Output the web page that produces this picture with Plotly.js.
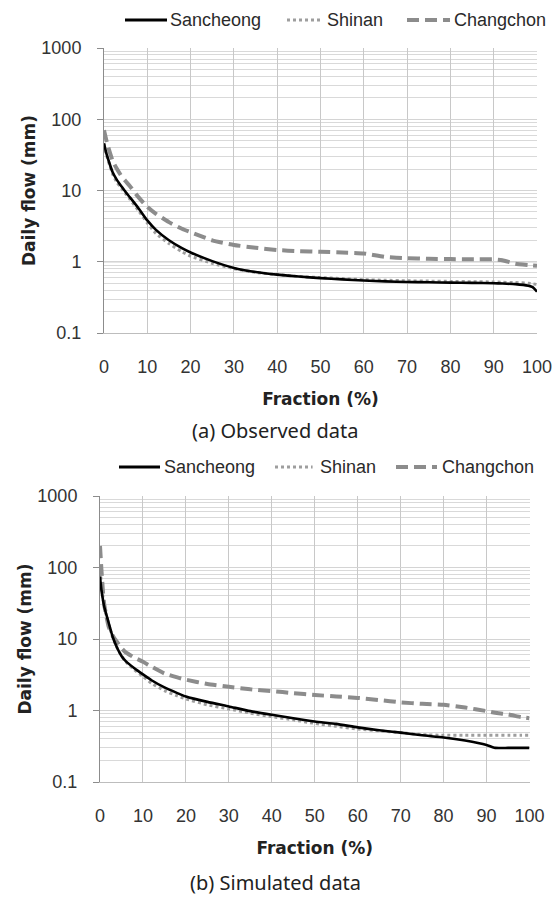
<!DOCTYPE html>
<html><head><meta charset="utf-8">
<script src="https://cdn.plot.ly/plotly-3.0.1.min.js"></script>
<style>html,body{margin:0;padding:0;background:#fff;}#chart{width:557px;height:899px;}</style>
</head><body><div id="chart"></div>
<script>
// ---- data ----
const seriesNames = ["Sancheong", "Shinan", "Changchon"];
const xTickVals = [0,10,20,30,40,50,60,70,80,90,100];
const yTickVals = [0.1, 1, 10, 100, 1000];
const yTickText = ["0.1", "1", "10", "100", "1000"];

const obsFrac = [0,0.5,1,2,3,4,5,6,8,10,12,15,18,20,25,30,35,40,45,50,55,60,65,70,75,80,85,90,92,95,98,99,100];
const obsSancheong = [46,34,27,18,14,11.5,9.5,8,5.6,3.8,2.8,2.0,1.55,1.35,1.02,0.82,0.72,0.66,0.62,0.59,0.565,0.545,0.53,0.52,0.515,0.51,0.505,0.5,0.495,0.485,0.46,0.44,0.38];
const obsShinan = [45,33,26,17,13,10.8,9,7.5,5.2,3.5,2.5,1.8,1.38,1.2,0.95,0.8,0.71,0.66,0.62,0.6,0.58,0.56,0.55,0.54,0.535,0.53,0.525,0.52,0.515,0.51,0.5,0.49,0.48];
const obsChangchon = [70,52,40,26,20,16,13.5,11.5,8,5.9,4.7,3.6,2.9,2.6,2.0,1.72,1.57,1.46,1.41,1.38,1.35,1.31,1.17,1.12,1.1,1.09,1.08,1.08,1.05,0.94,0.9,0.89,0.88];

const simFrac = [0,0.3,0.7,1,2,3,4,5,6,8,10,12,15,18,20,25,30,35,40,45,50,55,60,65,70,75,80,85,90,92,95,98,100];
const simSancheong = [75,50,35,28,17,10.5,7.5,5.8,4.9,3.9,3.2,2.65,2.1,1.75,1.57,1.32,1.14,0.98,0.87,0.78,0.7,0.65,0.58,0.53,0.49,0.45,0.42,0.38,0.33,0.3,0.3,0.3,0.3];
const simShinan = [110,60,38,28,16,10.5,7.5,5.8,4.8,3.7,3.0,2.4,1.9,1.6,1.45,1.2,1.05,0.92,0.82,0.74,0.66,0.6,0.55,0.52,0.49,0.46,0.45,0.45,0.45,0.45,0.45,0.45,0.45];
const simChangchon = [200,100,45,30,15,11,9,7.5,6.5,5.5,4.8,4.1,3.3,2.9,2.7,2.35,2.15,1.98,1.87,1.75,1.65,1.57,1.5,1.4,1.3,1.24,1.2,1.1,0.98,0.93,0.88,0.81,0.78];

const captions = ["(a) Observed data", "(b) Simulated data"];
const xTitle = "Fraction (%)";
const yTitle = "Daily flow (mm)";

// ---- styles ----
const styles = [
  {color:"#000000", width:2.6, dash:"solid"},
  {color:"#9e9e9e", width:3, dash:"3px,3px"},
  {color:"#8c8c8c", width:4, dash:"12px,6px"}
];
const W = 557, H = 899;
const px = v => v / W, py = v => 1 - v / H;
const tickFont = {family:"Liberation Sans, Arial, sans-serif", size:18, color:"#333333"};
const legendFont = {family:"Liberation Sans, Arial, sans-serif", size:18, color:"#2a2a2a"};
const titleFont = {family:"DejaVu Sans, sans-serif", size:17, color:"#222222", weight:"bold"};

const minorVals = [];
[0.1,1,10,100].forEach(d => { for (let k=2;k<=9;k++) minorVals.push(d*k); });

function mk(x, y, s, xa, ya) {
  return {x:x, y:y, xaxis:xa, yaxis:ya, type:"scatter", mode:"lines", showlegend:false,
    line:{color:styles[s].color, width:styles[s].width, dash:styles[s].dash, shape:"spline", smoothing:0.5},
    hoverinfo:"skip"};
}
const traces = [
  mk(obsFrac, obsShinan, 1, "x", "y"),
  mk(obsFrac, obsChangchon, 2, "x", "y"),
  mk(obsFrac, obsSancheong, 0, "x", "y"),
  mk(simFrac, simShinan, 1, "x2", "y2"),
  mk(simFrac, simChangchon, 2, "x2", "y2"),
  mk(simFrac, simSancheong, 0, "x2", "y2")
];

function xaxisDef(dom, anchor) {
  return {domain:dom, anchor:anchor, range:[0,100], tickvals:xTickVals, showgrid:true,
    gridcolor:"#c8c8c8", gridwidth:1, zeroline:false, showline:true, linecolor:"#bdbdbd", linewidth:1,
    ticks:"", tickfont:tickFont, ticklabelstandoff:17,
    title:{text:xTitle, font:titleFont, standoff:17}, fixedrange:true, automargin:false};
}
function yaxisDef(dom, anchor) {
  return {domain:dom, anchor:anchor, type:"log", range:[-1,3], tickvals:yTickVals, ticktext:yTickText,
    showgrid:true, gridcolor:"#d4d4d4", gridwidth:1, zeroline:false, showline:true, linecolor:"#8c8c8c", linewidth:1,
    ticks:"outside", ticklen:6, tickcolor:"#8c8c8c", tickfont:tickFont, ticklabelstandoff:12,
    minor:{tickvals:minorVals, showgrid:true, gridcolor:"#d9d9d9", gridwidth:1, ticks:""},
    title:{text:yTitle, font:titleFont, standoff:1}, fixedrange:true, automargin:false};
}

const legendRows = [
  {y:20, items:[[125,167,168.3],[287,323,325],[407,450,451.7]]},
  {y:467, items:[[119,160,161.6],[275,312.6,318],[396,437,440]]}
];
const shapes = [];
const annotations = [];
legendRows.forEach(row => {
  row.items.forEach((it, i) => {
    shapes.push({type:"line", xref:"paper", yref:"paper", x0:px(it[0]), x1:px(it[1]), y0:py(row.y), y1:py(row.y),
      line:{color:styles[i].color, width:styles[i].width + (i===0?0.4:0), dash:styles[i].dash}});
    annotations.push({xref:"paper", yref:"paper", x:px(it[2]), y:py(row.y), xanchor:"left", yanchor:"middle",
      text:seriesNames[i], showarrow:false, font:legendFont});
  });
});
// darker major gridline at 1 in the top panel
shapes.push({type:"line", xref:"x", yref:"y", x0:0, x1:100, y0:1, y1:1, line:{color:"#9a9a9a", width:1}, layer:"below"});

annotations.push({xref:"paper", yref:"paper", x:px(275), y:py(430), xanchor:"center", yanchor:"middle",
  text:captions[0], showarrow:false, font:{family:"Noto Sans, sans-serif", size:20, color:"#222222"}});
annotations.push({xref:"paper", yref:"paper", x:px(275), y:py(882), xanchor:"center", yanchor:"middle",
  text:captions[1], showarrow:false, font:{family:"Noto Sans, sans-serif", size:20, color:"#222222"}});

const layout = {
  width:W, height:H, margin:{l:0, r:0, t:0, b:0}, paper_bgcolor:"#ffffff", plot_bgcolor:"#ffffff",
  showlegend:false,
  xaxis: xaxisDef([px(104), px(537)], "y"),
  yaxis: yaxisDef([py(333), py(48)], "x"),
  xaxis2: xaxisDef([px(100), px(529.5)], "y2"),
  yaxis2: yaxisDef([py(782), py(496)], "x2"),
  shapes:shapes, annotations:annotations
};
Plotly.newPlot("chart", traces, layout, {staticPlot:true, displayModeBar:false});
</script></body></html>
